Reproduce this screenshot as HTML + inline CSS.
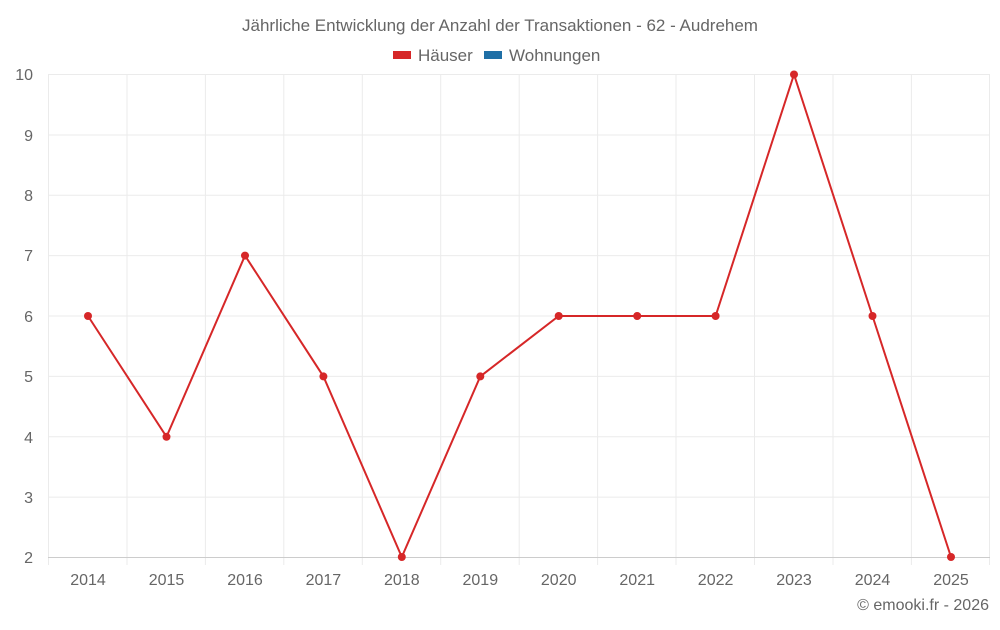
<!DOCTYPE html>
<html><head><meta charset="utf-8"><style>
body{margin:0;background:#fff;font-family:"Liberation Sans",sans-serif}
</style></head><body>
<svg width="1000" height="625" xmlns="http://www.w3.org/2000/svg" font-family="Liberation Sans, sans-serif">
<rect width="1000" height="625" fill="#fff"/>
<text x="500" y="31" text-anchor="middle" font-size="17" fill="#666">Jährliche Entwicklung der Anzahl der Transaktionen - 62 - Audrehem</text>
<rect x="393" y="51" width="18" height="8" fill="#d62728"/>
<text x="418" y="61" font-size="17" fill="#666">Häuser</text>
<rect x="484" y="51" width="18" height="8" fill="#1f6fa6"/>
<text x="509" y="61" font-size="17" fill="#666">Wohnungen</text>
<g stroke="#ebebeb" stroke-width="1">
<line x1="48" y1="74.5" x2="990" y2="74.5"/>
<line x1="48" y1="135" x2="990" y2="135"/>
<line x1="48" y1="195.3" x2="990" y2="195.3"/>
<line x1="48" y1="255.6" x2="990" y2="255.6"/>
<line x1="48" y1="316" x2="990" y2="316"/>
<line x1="48" y1="376.4" x2="990" y2="376.4"/>
<line x1="48" y1="436.8" x2="990" y2="436.8"/>
<line x1="48" y1="497.1" x2="990" y2="497.1"/>
<line x1="48.5" y1="74" x2="48.5" y2="565"/>
<line x1="127" y1="74" x2="127" y2="565"/>
<line x1="205.4" y1="74" x2="205.4" y2="565"/>
<line x1="283.8" y1="74" x2="283.8" y2="565"/>
<line x1="362.3" y1="74" x2="362.3" y2="565"/>
<line x1="440.7" y1="74" x2="440.7" y2="565"/>
<line x1="519.2" y1="74" x2="519.2" y2="565"/>
<line x1="597.6" y1="74" x2="597.6" y2="565"/>
<line x1="676" y1="74" x2="676" y2="565"/>
<line x1="754.5" y1="74" x2="754.5" y2="565"/>
<line x1="833" y1="74" x2="833" y2="565"/>
<line x1="911.4" y1="74" x2="911.4" y2="565"/>
<line x1="989.5" y1="74" x2="989.5" y2="565"/>
</g>
<line x1="48" y1="557.5" x2="990" y2="557.5" stroke="#ccc"/>
<g font-size="16" fill="#666" text-anchor="end">
<text x="33" y="80">10</text><text x="33" y="141">9</text><text x="33" y="201">8</text><text x="33" y="261">7</text><text x="33" y="322">6</text><text x="33" y="382">5</text><text x="33" y="443">4</text><text x="33" y="503">3</text><text x="33" y="563">2</text>
</g>
<g font-size="16" fill="#666" text-anchor="middle">
<text x="88" y="585">2014</text><text x="166.5" y="585">2015</text><text x="245" y="585">2016</text><text x="323.4" y="585">2017</text><text x="401.8" y="585">2018</text><text x="480.3" y="585">2019</text><text x="558.7" y="585">2020</text><text x="637.2" y="585">2021</text><text x="715.6" y="585">2022</text><text x="794" y="585">2023</text><text x="872.5" y="585">2024</text><text x="951" y="585">2025</text>
</g>
<text x="989" y="610" text-anchor="end" font-size="16" fill="#666">© emooki.fr - 2026</text>
<polyline fill="none" stroke="#d62728" stroke-width="2" points="88,316 166.5,436.8 245,255.6 323.4,376.4 401.8,557 480.3,376.4 558.7,316 637.2,316 715.6,316 794,74.5 872.5,316 951,557"/>
<g fill="#d62728">
<circle cx="88" cy="316" r="4"/><circle cx="166.5" cy="436.8" r="4"/><circle cx="245" cy="255.6" r="4"/><circle cx="323.4" cy="376.4" r="4"/><circle cx="401.8" cy="557" r="4"/><circle cx="480.3" cy="376.4" r="4"/><circle cx="558.7" cy="316" r="4"/><circle cx="637.2" cy="316" r="4"/><circle cx="715.6" cy="316" r="4"/><circle cx="794" cy="74.5" r="4"/><circle cx="872.5" cy="316" r="4"/><circle cx="951" cy="557" r="4"/>
</g>
</svg>
</body></html>
